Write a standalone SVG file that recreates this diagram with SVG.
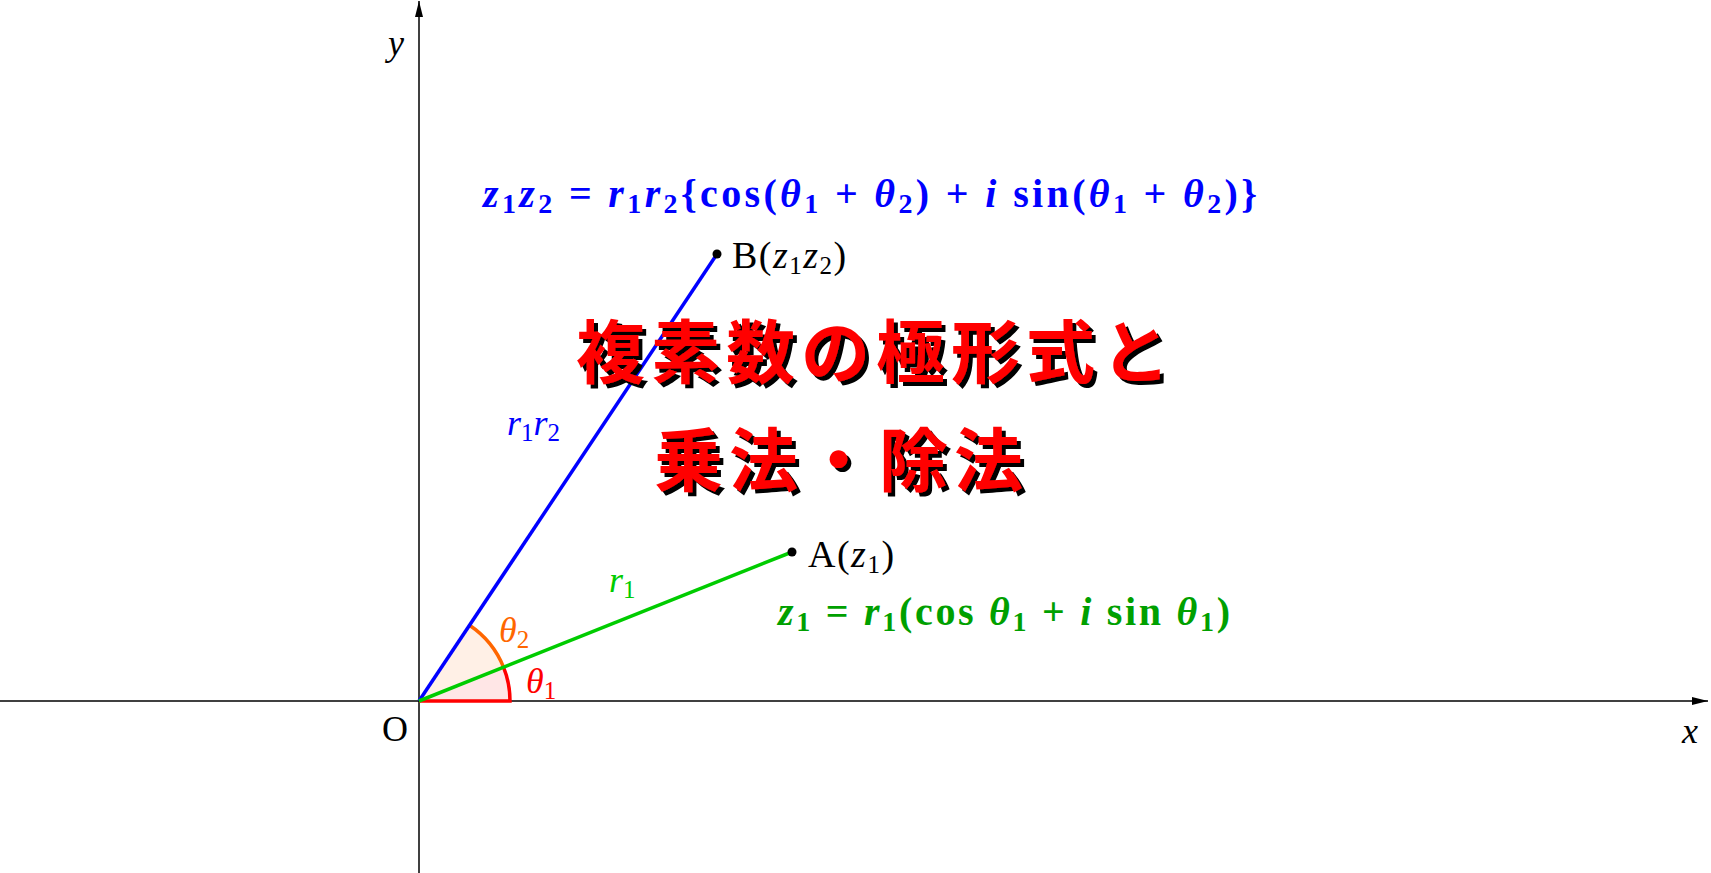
<svg xmlns="http://www.w3.org/2000/svg" width="1711" height="873" viewBox="0 0 1711 873">
<style>
.lbl{font-family:"Liberation Serif",serif;font-size:36px;}
.pt{font-size:38px;letter-spacing:1.5px;}
.fm{font-family:"Liberation Serif",serif;font-size:40px;font-weight:bold;}
.it{font-style:italic;}
.sub{font-size:25px;font-style:normal;}
.fsub{font-size:28px;font-style:normal;}
.title{font-family:"Noto Sans CJK JP","Noto Sans CJK SC",sans-serif;font-weight:bold;font-size:69px;letter-spacing:6px;fill:#ff0000;filter:url(#shadow);}
</style>
<defs>
<marker id="arr" viewBox="0 0 16 8" refX="16" refY="4" markerWidth="16" markerHeight="8" markerUnits="userSpaceOnUse" orient="auto">
<path d="M0,0 L16,4 L0,8 Z" fill="#000"/>
</marker>
<filter id="shadow" x="-5%" y="-20%" width="110%" height="140%">
<feOffset in="SourceAlpha" dx="4" dy="4" result="off"/>
<feFlood flood-color="#000"/>
<feComposite in2="off" operator="in" result="sh"/>
<feMerge><feMergeNode in="sh"/><feMergeNode in="SourceGraphic"/></feMerge>
</filter>
</defs>
<rect width="1711" height="873" fill="#fff"/>
<g id="axes">
<line x1="0" y1="701" x2="1708" y2="701" stroke="#000" stroke-width="1.5" marker-end="url(#arr)"/>
<line x1="419" y1="873" x2="419" y2="1" stroke="#000" stroke-width="1.5" marker-end="url(#arr)"/>
<text class="lbl it" x="388" y="55">y</text>
<text class="lbl it" x="1682" y="743">x</text>
<text class="lbl" x="382" y="741">O</text>
</g>
<g id="angles">
<path d="M419,701 L510,701 A91,91 0 0 0 503.5,667.2 Z" fill="#ffe6e6" stroke="none"/>
<path d="M419,701 L503.5,667.2 A91,91 0 0 0 469.5,625.3 Z" fill="#fff0e6" stroke="none"/>
<path d="M419,701 L510,701 A91,91 0 0 0 503.5,667.2" fill="none" stroke="#ff0000" stroke-width="3.5"/>
<path d="M503.5,667.2 A91,91 0 0 0 469.5,625.3" fill="none" stroke="#ff6600" stroke-width="3.5"/>
<text class="lbl it" x="499" y="642" fill="#ff6600">θ<tspan class="sub" dy="6">2</tspan></text>
<text class="lbl it" x="526" y="693" fill="#ff0000">θ<tspan class="sub" dy="6">1</tspan></text>
</g>
<g id="connectors">
<line x1="419" y1="701" x2="717" y2="254" stroke="#0000ff" stroke-width="3.5"/>
<line x1="419" y1="701" x2="792" y2="552" stroke="#00cc00" stroke-width="3.5"/>
<text class="lbl it" x="507" y="435" fill="#0000ff">r<tspan class="sub" dy="6">1</tspan><tspan dy="-6">r</tspan><tspan class="sub" dy="6">2</tspan></text>
<text class="lbl it" x="609" y="592" fill="#00cc00">r<tspan class="sub" dy="6">1</tspan></text>
</g>
<g id="pointA">
<circle cx="792" cy="552" r="4.5" fill="#000"/>
<text class="lbl pt" x="808" y="567">A(<tspan class="it">z</tspan><tspan class="sub" dy="6">1</tspan><tspan dy="-6">)</tspan></text>
</g>
<g id="pointB">
<circle cx="717" cy="254" r="4.5" fill="#000"/>
<text class="lbl pt" x="732" y="268">B(<tspan class="it">z</tspan><tspan class="sub" dy="6">1</tspan><tspan class="it" dy="-6">z</tspan><tspan class="sub" dy="6">2</tspan><tspan dy="-6">)</tspan></text>
</g>
<g id="formulaB">
<text class="fm" x="483" y="207" fill="#0000ff" textLength="774"><tspan class="it">z</tspan><tspan class="fsub" dy="6">1</tspan><tspan class="it" dy="-6">z</tspan><tspan class="fsub" dy="6">2</tspan><tspan dy="-6"> = </tspan><tspan class="it">r</tspan><tspan class="fsub" dy="6">1</tspan><tspan class="it" dy="-6">r</tspan><tspan class="fsub" dy="6">2</tspan><tspan dy="-6">{cos(</tspan><tspan class="it">θ</tspan><tspan class="fsub" dy="6">1</tspan><tspan dy="-6"> + </tspan><tspan class="it">θ</tspan><tspan class="fsub" dy="6">2</tspan><tspan dy="-6">) + </tspan><tspan class="it">i</tspan><tspan> sin(</tspan><tspan class="it">θ</tspan><tspan class="fsub" dy="6">1</tspan><tspan dy="-6"> + </tspan><tspan class="it">θ</tspan><tspan class="fsub" dy="6">2</tspan><tspan dy="-6">)}</tspan></text>
</g>
<g id="formulaA">
<text class="fm" x="778" y="625" fill="#00a000" textLength="452"><tspan class="it">z</tspan><tspan class="fsub" dy="6">1</tspan><tspan dy="-6"> = </tspan><tspan class="it">r</tspan><tspan class="fsub" dy="6">1</tspan><tspan dy="-6">(cos </tspan><tspan class="it">θ</tspan><tspan class="fsub" dy="6">1</tspan><tspan dy="-6"> + </tspan><tspan class="it">i</tspan><tspan> sin </tspan><tspan class="it">θ</tspan><tspan class="fsub" dy="6">1</tspan><tspan dy="-6">)</tspan></text>
</g>
<g id="title">
<text class="title" x="576" y="378">複素数の極形式と</text>
<text class="title" x="654" y="486">乗法・除法</text>
</g>
</svg>
